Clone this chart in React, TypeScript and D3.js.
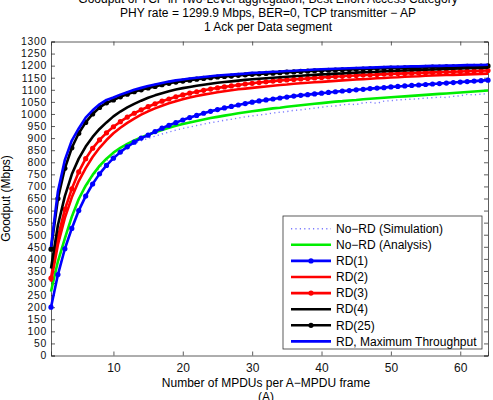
import React, { useEffect, useRef } from 'react';
import * as d3 from 'd3';

// A = number of MPDUs per A-MPDU frame (1..64)
const mpdus = d3.range(1, 65);

const noRdSim = [262, 385, 480, 570, 642, 698, 742, 778, 806, 830, 849, 864, 877, 889, 899, 908, 917, 925, 933, 940, 946, 952, 958, 964, 968, 974, 978, 983, 988, 992, 996, 999, 1004, 1007, 1010, 1015, 1017, 1021, 1024, 1028, 1032, 1033, 1038, 1040, 1039, 1046, 1048, 1044, 1053, 1055, 1058, 1060, 1061, 1063, 1066, 1067, 1070, 1068, 1073, 1075, 1081, 1079, 1082, 1084];
const noRdAnalysis = [265, 390, 485, 575, 648, 703, 748, 785, 815, 840, 860, 876, 890, 903, 914, 924, 934, 943, 951, 958, 965, 971, 977, 983, 988, 993, 998, 1003, 1007, 1011, 1015, 1019, 1023, 1026, 1030, 1033, 1036, 1039, 1042, 1045, 1048, 1051, 1053, 1056, 1058, 1061, 1063, 1065, 1067, 1069, 1071, 1073, 1075, 1077, 1079, 1081, 1083, 1085, 1087, 1089, 1091, 1093, 1095, 1097];
const rd1 = [200, 335, 442, 526, 600, 660, 710, 752, 787, 817, 842, 864, 883, 900, 912, 927, 941, 953, 964, 975, 985, 994, 1003, 1011, 1018, 1025, 1031, 1037, 1043, 1049, 1054, 1058, 1062, 1066, 1070, 1074, 1077, 1080, 1083, 1086, 1089, 1092, 1095, 1097, 1100, 1102, 1105, 1107, 1109, 1112, 1114, 1116, 1118, 1120, 1122, 1124, 1126, 1128, 1130, 1132, 1134, 1136, 1138, 1140];
const rd2 = [305, 460, 570, 655, 722, 776, 822, 860, 892, 920, 943, 963, 981, 997, 1011, 1023, 1034, 1044, 1053, 1061, 1068, 1074, 1080, 1085, 1090, 1094, 1098, 1102, 1105, 1108, 1111, 1114, 1117, 1120, 1122, 1125, 1127, 1129, 1131, 1133, 1135, 1137, 1139, 1141, 1143, 1144, 1146, 1148, 1149, 1151, 1152, 1154, 1155, 1156, 1158, 1159, 1160, 1161, 1162, 1163, 1164, 1165, 1166, 1167];
const rd3 = [320, 490, 605, 690, 760, 815, 858, 893, 922, 947, 968, 987, 1003, 1017, 1030, 1042, 1053, 1062, 1071, 1079, 1086, 1092, 1098, 1103, 1108, 1112, 1116, 1120, 1124, 1127, 1130, 1133, 1136, 1139, 1141, 1143, 1145, 1147, 1149, 1151, 1153, 1155, 1156, 1158, 1159, 1161, 1162, 1163, 1165, 1166, 1167, 1168, 1169, 1170, 1171, 1172, 1173, 1174, 1175, 1176, 1177, 1178, 1179, 1180];
const rd4 = [360, 540, 660, 750, 815, 865, 905, 938, 965, 990, 1010, 1027, 1042, 1055, 1067, 1077, 1086, 1094, 1101, 1107, 1112, 1117, 1121, 1125, 1129, 1132, 1135, 1138, 1141, 1144, 1146, 1148, 1150, 1152, 1154, 1156, 1158, 1160, 1162, 1164, 1165, 1167, 1168, 1170, 1171, 1173, 1174, 1175, 1177, 1178, 1179, 1180, 1181, 1182, 1183, 1184, 1185, 1186, 1187, 1188, 1189, 1190, 1191, 1192];
const rd25 = [440, 650, 775, 860, 920, 965, 1000, 1027, 1046, 1058, 1071, 1082, 1092, 1100, 1108, 1114, 1121, 1127, 1132, 1136, 1140, 1144, 1147, 1150, 1153, 1155, 1157, 1160, 1162, 1164, 1166, 1168, 1169, 1171, 1173, 1174, 1176, 1177, 1179, 1180, 1181, 1182, 1183, 1184, 1185, 1186, 1187, 1188, 1189, 1190, 1190, 1191, 1192, 1192, 1193, 1194, 1194, 1195, 1195, 1196, 1197, 1197, 1198, 1199];
const rdMax = [450, 680, 810, 890, 940, 985, 1015, 1040, 1058, 1068, 1080, 1090, 1100, 1108, 1116, 1122, 1128, 1134, 1139, 1143, 1147, 1150, 1153, 1156, 1159, 1161, 1163, 1165, 1167, 1170, 1171, 1173, 1175, 1176, 1178, 1179, 1181, 1182, 1184, 1185, 1186, 1187, 1188, 1189, 1190, 1191, 1192, 1193, 1194, 1195, 1195, 1196, 1197, 1197, 1198, 1199, 1199, 1200, 1200, 1201, 1202, 1202, 1203, 1204];

const seriesNames = ['No\u2212RD (Simulation)', 'No\u2212RD (Analysis)', 'RD(1)', 'RD(2)', 'RD(3)', 'RD(4)', 'RD(25)', 'RD, Maximum Throughput'];
const seriesValues = [noRdSim, noRdAnalysis, rd1, rd2, rd3, rd4, rd25, rdMax];
const seriesColors = ['#7b7bff', '#00ee00', '#0000ff', '#ff0000', '#ff0000', '#000000', '#000000', '#0000ff'];
const seriesMarkers = [false, false, true, false, true, false, true, false];

const xTicks = [10, 20, 30, 40, 50, 60];
const yTicks = d3.range(0, 1301, 50);

const titleLines = [
  'Goodput of TCP in Two-Level aggregation, Best Effort Access Category',
  'PHY rate = 1299.9 Mbps, BER=0, TCP transmitter \u2212 AP',
  '1 Ack per Data segment',
];

export default function App() {
  const ref = useRef<SVGSVGElement>(null);

  useEffect(() => {
    const svg = d3.select(ref.current);
    svg.selectAll('*').remove();

    const left = 51, right = 488, top = 41.5, bottom = 355.5;
    const font = 'Liberation Sans, Arial, sans-serif';

    const x = d3.scaleLinear().domain([1, 64]).range([left, right]);
    const y = d3.scaleLinear().domain([0, 1300]).range([bottom, top]);

    svg.append('rect').attr('width', 493).attr('height', 400).attr('fill', '#fff');

    // title (three lines, first one runs off the top)
    svg.append('g')
      .selectAll('text')
      .data(titleLines)
      .join('text')
      .attr('x', 268)
      .attr('y', (d, i) => 2.5 + i * 14.4)
      .attr('text-anchor', 'middle')
      .attr('font-family', font)
      .attr('font-size', 12)
      .text(d => d);

    // axes, ticks pointing inward like the plot box
    const axisColor = '#333';
    const yAxis = svg.append('g')
      .attr('transform', `translate(${left},0)`)
      .call(d3.axisLeft(y).tickValues(yTicks).tickSize(-4).tickPadding(4).tickFormat(d3.format('d')));
    const yRight = svg.append('g')
      .attr('transform', `translate(${right},0)`)
      .call(d3.axisRight(y).tickValues(yTicks).tickSize(-4).tickFormat(() => ''));
    const xAxis = svg.append('g')
      .attr('transform', `translate(0,${bottom})`)
      .call(d3.axisBottom(x).tickValues(xTicks).tickSize(-4).tickPadding(8));
    const xTop = svg.append('g')
      .attr('transform', `translate(0,${top})`)
      .call(d3.axisTop(x).tickValues(xTicks).tickSize(-4).tickFormat(() => ''));
    [yAxis, yRight, xAxis, xTop].forEach(g => {
      g.select('.domain').attr('stroke', axisColor).attr('stroke-width', 0.8);
      g.selectAll('.tick line').attr('stroke', axisColor).attr('stroke-width', 0.8);
      g.selectAll('.tick text')
        .attr('font-family', font)
        .attr('font-size', 12)
        .attr('fill', '#111');
    });
    // y labels are packed every 50, so a smaller size with wider spacing
    yAxis.selectAll('.tick text')
      .attr('font-size', 10.4)
      .attr('letter-spacing', 0.75);

    // axis labels
    svg.append('text')
      .attr('x', 266)
      .attr('y', 387)
      .attr('text-anchor', 'middle')
      .attr('font-family', font)
      .attr('font-size', 12)
      .text('Number of MPDUs per A\u2212MPDU frame');
    svg.append('text')
      .attr('x', 266)
      .attr('y', 401)
      .attr('text-anchor', 'middle')
      .attr('font-family', font)
      .attr('font-size', 12)
      .text('(A)');
    svg.append('text')
      .attr('transform', `translate(10,${(top + bottom) / 2}) rotate(-90)`)
      .attr('text-anchor', 'middle')
      .attr('font-family', font)
      .attr('font-size', 12)
      .text('Goodput (Mbps)');

    const line = d3.line<number>()
      .x((d, i) => x(mpdus[i]))
      .y(d => y(d));

    const plot = svg.append('g');
    seriesValues.forEach((vals, s) => {
      const dotted = s === 0;
      plot.append('path')
        .datum(vals)
        .attr('fill', 'none')
        .attr('stroke', seriesColors[s])
        .attr('stroke-width', dotted ? 1.4 : 2.6)
        .attr('stroke-dasharray', dotted ? '1.2,3.2' : null)
        .attr('stroke-linejoin', 'round')
        .attr('d', line);
      if (seriesMarkers[s]) {
        plot.append('g')
          .selectAll('circle')
          .data(vals)
          .join('circle')
          .attr('cx', (d, i) => x(mpdus[i]))
          .attr('cy', d => y(d))
          .attr('r', 2.6)
          .attr('fill', seriesColors[s]);
      }
    });

    // legend
    const lg = svg.append('g');
    lg.append('rect')
      .attr('x', 283)
      .attr('y', 216)
      .attr('width', 199)
      .attr('height', 133)
      .attr('fill', '#fff')
      .attr('stroke', axisColor)
      .attr('stroke-width', 0.8);
    seriesNames.forEach((name, s) => {
      const ly = 228.7 + s * 16.1;
      const dotted = s === 0;
      lg.append('line')
        .attr('x1', 291)
        .attr('x2', 331)
        .attr('y1', ly)
        .attr('y2', ly)
        .attr('stroke', seriesColors[s])
        .attr('stroke-width', dotted ? 1.4 : 2.6)
        .attr('stroke-dasharray', dotted ? '1.2,3.2' : null);
      if (seriesMarkers[s]) {
        lg.append('circle').attr('cx', 311).attr('cy', ly).attr('r', 2.6).attr('fill', seriesColors[s]);
      }
      lg.append('text')
        .attr('x', 336)
        .attr('y', ly + 4.2)
        .attr('font-family', font)
        .attr('font-size', 12)
        .text(name);
    });
  }, []);

  return (
    <svg ref={ref} width={493} height={400} style={{ position: 'absolute', left: 0, top: 0 }} />
  );
}
